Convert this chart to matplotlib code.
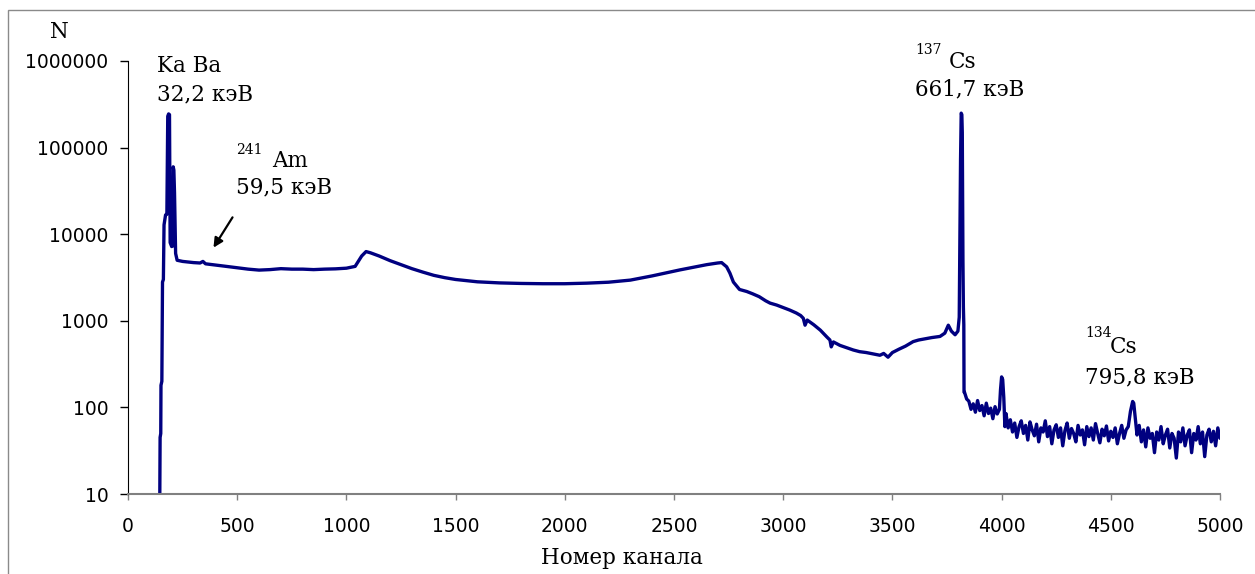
import matplotlib
matplotlib.use("Agg")
import matplotlib.pyplot as plt
from matplotlib.patches import Rectangle
from matplotlib.ticker import FixedLocator, FixedFormatter

# Спектр: номера каналов и отсчёты
kanal_start = [145, 147, 150, 151, 155, 158, 162, 165, 172, 178, 182, 186, 190,
               193, 200, 205, 207, 210, 213, 218, 225, 250, 300, 330, 343, 355,
               400, 450, 500, 550, 600, 650, 700, 750, 800, 850, 900, 950,
               1000, 1040, 1070, 1090, 1110, 1150, 1200, 1250, 1300, 1350,
               1400, 1450, 1500, 1600, 1700, 1800, 1900, 2000, 2100, 2200,
               2300, 2400, 2527, 2600, 2650, 2700, 2718, 2741, 2756]
n_start = [5, 45, 50, 180, 200, 2800, 3000, 12800, 16700, 17000, 230000,
           245000, 240000, 8000, 7200, 7300, 60000, 55000, 30000, 6000, 5000,
           4850, 4700, 4650, 4850, 4550, 4400, 4250, 4100, 3950, 3850, 3900,
           4000, 3950, 3950, 3900, 3950, 3980, 4050, 4250, 5600, 6300, 6100,
           5600, 4950, 4450, 4000, 3650, 3350, 3150, 3000, 2820, 2740, 2700,
           2680, 2680, 2720, 2790, 2950, 3300, 3870, 4200, 4450, 4650, 4700,
           4200, 3550]

kanal_spad = [2772, 2800, 2833, 2860, 2890, 2920, 2940, 2970, 3000, 3030,
              3060, 3080, 3092, 3100, 3110, 3140, 3170, 3200, 3214, 3220,
              3230, 3260, 3290, 3321, 3350, 3380, 3410, 3443, 3460, 3480,
              3500, 3530, 3560, 3595, 3620, 3650, 3680, 3718, 3740, 3756,
              3770, 3787, 3800, 3806, 3810, 3812, 3815, 3818, 3820, 3823,
              3825, 3827, 3828]
n_spad = [2800, 2300, 2180, 2050, 1900, 1700, 1600, 1520, 1420, 1330, 1230,
          1150, 1070, 890, 1020, 900, 780, 650, 600, 500, 570, 520, 490, 460,
          440, 430, 415, 400, 420, 380, 430, 470, 510, 575, 600, 620, 640,
          660, 720, 890, 760, 690, 760, 1100, 20000, 72000, 250000, 240000,
          150000, 5000, 1450, 900, 150]

kanal_hvost = [3830, 3840, 3850, 3860, 3870, 3880, 3890, 3900, 3910, 3920,
               3930, 3940, 3950, 3960, 3970, 3980, 3990, 3995, 4000, 4005,
               4010, 4015, 4020, 4030, 4040, 4050, 4060, 4070, 4080, 4090,
               4100, 4110, 4120, 4130, 4140, 4150, 4160, 4170, 4180, 4190,
               4200, 4210, 4220, 4230, 4240, 4250, 4260, 4270, 4280, 4290,
               4300, 4310, 4320, 4330, 4340, 4350, 4360, 4370, 4380, 4390,
               4400, 4410, 4420, 4430, 4440, 4450, 4460, 4470, 4480, 4490,
               4500, 4510, 4520, 4530, 4540, 4550, 4560, 4570, 4580, 4590,
               4600, 4605, 4610, 4620, 4630, 4640, 4650, 4660, 4670, 4680,
               4690, 4700, 4710, 4720, 4730, 4740, 4750, 4760, 4770, 4780,
               4790, 4800, 4810, 4820, 4830, 4840, 4850, 4860, 4870, 4880,
               4890, 4900, 4910, 4920, 4930, 4940, 4950, 4960, 4970, 4980,
               4990, 5000, 5005]
n_hvost = [150, 125, 118, 95, 110, 88, 120, 92, 105, 80, 112, 85, 98, 74,
           102, 84, 95, 160, 225, 210, 130, 60, 85, 58, 72, 52, 66, 45, 60,
           70, 50, 62, 42, 68, 55, 47, 64, 40, 58, 52, 70, 46, 60, 38, 55,
           63, 45, 58, 36, 54, 66, 44, 57, 50, 40, 62, 48, 55, 37, 60, 46,
           58, 42, 65, 50, 39, 56, 47, 61, 41, 53, 45, 58, 38, 50, 62, 44,
           55, 60, 90, 117, 112, 85, 48, 62, 40, 55, 35, 58, 44, 50, 30, 52,
           42, 60, 38, 48, 56, 34, 50, 44, 26, 52, 40, 58, 36, 48, 55, 30,
           50, 42, 60, 38, 52, 27, 48, 56, 40, 53, 36, 58, 44, 50]

kanal = kanal_start + kanal_spad + kanal_hvost
n = n_start + n_spad + n_hvost

y_ticks = [10, 100, 1000, 10000, 100000, 1000000]
x_ticks = [0, 500, 1000, 1500, 2000, 2500, 3000, 3500, 4000, 4500, 5000]

W, H = 1255, 574

fig = plt.figure(figsize=(W / 100, H / 100), dpi=100)
ax = fig.add_axes([128 / W, 1 - 494 / H, 1092 / W, 433 / H])

ax.plot(kanal, n, color="#000080", linewidth=2.4, solid_joinstyle="round")

ax.set_yscale("log")
ax.set_ylim(10, 1000000)
ax.set_xlim(0, 5000)

ax.yaxis.set_major_locator(FixedLocator(y_ticks))
ax.yaxis.set_major_formatter(FixedFormatter([str(v) for v in y_ticks]))
ax.yaxis.set_minor_locator(FixedLocator([]))
ax.set_xticks(x_ticks)
ax.set_xticklabels([str(v) for v in x_ticks])

for s in ["top", "right"]:
    ax.spines[s].set_visible(False)
ax.spines["left"].set_color("black")
ax.spines["bottom"].set_color("#808080")
ax.spines["bottom"].set_linewidth(1.5)

ax.tick_params(axis="y", direction="out", length=6, width=1, color="black",
               pad=8, labelsize=13.5)
ax.tick_params(axis="x", direction="out", length=4.5, width=1, color="#808080",
               pad=12, labelsize=13.5)
for lab in ax.get_xticklabels() + ax.get_yticklabels():
    lab.set_family("DejaVu Sans")

# Рамка вокруг рисунка
fig.patches.append(Rectangle((8 / W, -0.1), 1.2, 1 - 10 / H + 0.1,
                             transform=fig.transFigure, fill=False,
                             edgecolor="#8a8a8a", linewidth=1))


def px(x, y):
    return x / W, 1 - y / H


serif = "DejaVu Serif"
fs = 15.5
fss = 10

fig.text(*px(50, 32), "N", family=serif, fontsize=fs, ha="left", va="center")

fig.text(*px(157, 66), "Ka Ba", family=serif, fontsize=fs, va="center")
fig.text(*px(157, 94), "32,2 кэВ", family=serif, fontsize=fs, va="center")

fig.text(*px(236, 150), "241", family=serif, fontsize=fss, va="center")
fig.text(*px(272, 161), "Am", family=serif, fontsize=fs, va="center")
fig.text(*px(236, 187), "59,5 кэВ", family=serif, fontsize=fs, va="center")

fig.text(*px(915, 50), "137", family=serif, fontsize=fss, va="center")
fig.text(*px(949, 62), "Cs", family=serif, fontsize=fs, va="center")
fig.text(*px(915, 89), "661,7 кэВ", family=serif, fontsize=fs, va="center")

fig.text(*px(1085, 333), "134", family=serif, fontsize=fss, va="center")
fig.text(*px(1110, 347), "Cs", family=serif, fontsize=fs, va="center")
fig.text(*px(1085, 377), "795,8 кэВ", family=serif, fontsize=fs, va="center")

fig.text(*px(622, 558), "Номер канала", family=serif, fontsize=fs,
         ha="center", va="center")

# Стрелка к пику 241Am
ax.annotate("", xy=px(212, 250), xytext=px(234, 215),
            xycoords="figure fraction", textcoords="figure fraction",
            arrowprops=dict(arrowstyle="-|>", color="black", lw=1.6,
                            mutation_scale=14))

fig.savefig("out.png", dpi=100)
